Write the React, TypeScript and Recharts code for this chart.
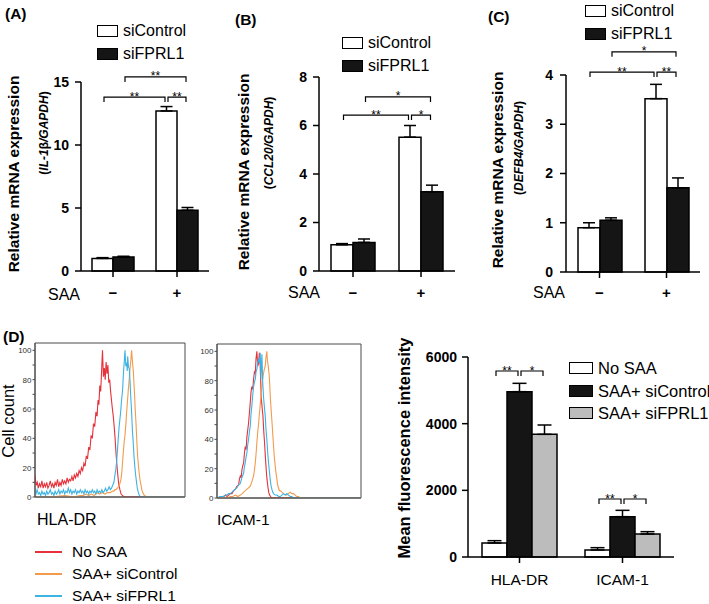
import React from "react";
import {
  BarChart,
  Bar,
  XAxis,
  YAxis,
  ErrorBar,
  Legend,
  LineChart,
  Line,
  ReferenceArea,
} from "recharts";

const FONT = '"Liberation Sans", Arial, Helvetica, sans-serif';

// ---- qPCR panels (A-C) ----
const saaLevels = ["\u2212", "+"];

const il1bControl = [1.0, 12.7];
const il1bControlErr = [0.06, 0.35];
const il1bFprl1 = [1.12, 4.82];
const il1bFprl1Err = [0.05, 0.22];

const ccl20Control = [1.08, 5.52];
const ccl20ControlErr = [0.05, 0.48];
const ccl20Fprl1 = [1.18, 3.27];
const ccl20Fprl1Err = [0.14, 0.27];

const defb4Control = [0.9, 3.52];
const defb4ControlErr = [0.1, 0.29];
const defb4Fprl1 = [1.05, 1.71];
const defb4Fprl1Err = [0.05, 0.2];

const il1bTicks = [0, 5, 10, 15];
const ccl20Ticks = [0, 2, 4, 6, 8];
const defb4Ticks = [0, 1, 2, 3, 4];

// ---- MFI panel (D, right) ----
const markers = ["HLA-DR", "ICAM-1"];
const mfiNoSaa = [420, 210];
const mfiNoSaaErr = [70, 70];
const mfiSiControl = [4960, 1210];
const mfiSiControlErr = [250, 190];
const mfiSiFprl1 = [3680, 690];
const mfiSiFprl1Err = [280, 70];
const mfiTicks = [0, 2000, 4000, 6000];

// significance brackets: [fromCat, fromBar, toCat, toBar, level, stars]
const il1bSig = [
  [0, 1, 1, 1, 15.4, "**"],
  [0, 0, 1, 0, 13.8, "**"],
  [1, 0, 1, 1, 13.8, "**"],
];
const ccl20Sig = [
  [0, 1, 1, 1, 7.18, "*"],
  [0, 0, 1, 0, 6.43, "**"],
  [1, 0, 1, 1, 6.43, "*"],
];
const defb4Sig = [
  [0, 1, 1, 1, 4.47, "*"],
  [0, 0, 1, 0, 4.06, "**"],
  [1, 0, 1, 1, 4.06, "**"],
];
const mfiSig = [
  [0, 0, 0, 1, 5580, "**"],
  [0, 1, 0, 2, 5580, "*"],
  [1, 0, 1, 1, 1740, "**"],
  [1, 1, 1, 2, 1740, "*"],
];

// ---- flow histograms (channel 0-1000, % of max) ----
const hlaNoSaa = [
  [0, 15], [4, 11], [8, 8], [15, 10], [22, 6], [30, 9], [38, 7], [46, 11], [54, 6], [62, 9],
  [70, 7], [78, 10], [86, 6], [94, 8], [102, 11], [110, 7], [118, 9], [126, 6], [134, 10], [142, 8],
  [150, 12], [158, 7], [166, 10], [174, 8], [182, 12], [190, 9], [198, 11], [206, 9], [214, 13], [222, 10],
  [230, 12], [238, 11], [246, 14], [254, 11], [262, 15], [270, 13], [278, 16], [286, 14], [294, 18], [302, 16],
  [310, 20], [318, 18], [326, 23], [334, 21], [342, 28], [350, 26], [358, 34], [366, 32], [374, 42], [382, 40],
  [390, 50], [398, 48], [406, 58], [414, 55], [420, 66], [426, 63], [432, 76], [438, 72], [444, 86], [450, 100],
  [456, 82], [462, 88], [468, 80], [474, 92], [480, 84], [486, 90], [492, 78], [498, 80], [504, 72], [510, 66],
  [516, 60], [522, 55], [528, 48], [534, 40], [540, 30], [546, 22], [552, 15], [558, 9], [566, 5], [574, 2],
  [584, 1], [594, 0], [1000, 0],
];
const hlaSiControl = [
  [0, 0], [100, 0], [200, 1], [260, 0], [300, 1], [322, 1], [340, 2], [358, 1], [376, 2], [394, 1],
  [412, 3], [430, 2], [448, 3], [466, 2], [484, 3], [502, 3], [516, 4], [526, 4], [533, 5], [541, 5],
  [549, 6], [556, 7], [562, 8], [568, 10], [573, 12], [579, 17], [584, 24], [590, 32], [595, 38], [600, 42],
  [606, 50], [611, 58], [617, 66], [622, 73], [628, 80], [633, 87], [638, 92], [644, 100], [650, 92], [656, 85],
  [660, 77], [664, 69], [668, 60], [673, 51], [678, 40], [684, 28], [690, 21], [696, 15], [701, 11], [707, 8],
  [712, 5], [718, 3], [724, 2], [729, 1], [744, 0], [1000, 0],
];
const hlaSiFprl1 = [
  [0, 4], [6, 2], [14, 5], [22, 2], [30, 3], [38, 1], [46, 4], [54, 2], [62, 3], [70, 1],
  [78, 4], [86, 2], [94, 3], [102, 5], [110, 2], [118, 3], [126, 1], [134, 4], [142, 2], [150, 3],
  [158, 5], [166, 2], [174, 4], [182, 3], [190, 5], [198, 2], [206, 4], [214, 3], [222, 6], [230, 3],
  [238, 5], [246, 2], [254, 4], [262, 3], [270, 5], [278, 2], [286, 4], [294, 3], [302, 5], [310, 3],
  [318, 4], [326, 2], [334, 5], [342, 3], [350, 4], [358, 2], [366, 4], [374, 3], [382, 5], [390, 3],
  [398, 4], [406, 2], [414, 5], [422, 3], [430, 4], [438, 3], [446, 5], [454, 3], [462, 4], [470, 6],
  [478, 4], [486, 5], [494, 7], [502, 5], [510, 6], [518, 8], [526, 10], [533, 15], [539, 19], [544, 24],
  [550, 32], [555, 40], [561, 48], [566, 53], [571, 58], [577, 66], [584, 73], [590, 85], [595, 92], [600, 100],
  [605, 90], [611, 91], [615, 86], [618, 96], [623, 89], [629, 87], [634, 78], [638, 69], [644, 58], [649, 46],
  [655, 37], [660, 28], [666, 20], [671, 15], [677, 10], [682, 6], [689, 3], [696, 1], [706, 0], [1000, 0],
];

const icamNoSaa = [
  [0, 0], [12, 0], [30, 1], [46, 1], [60, 2], [70, 1], [81, 2], [92, 3], [104, 3], [115, 5],
  [127, 6], [138, 8], [150, 9], [156, 13], [162, 15], [168, 14], [173, 19], [179, 22], [185, 24], [190, 30],
  [196, 35], [202, 33], [208, 42], [213, 46], [219, 51], [225, 58], [231, 65], [236, 72], [242, 76], [248, 74],
  [254, 81], [260, 86], [266, 85], [271, 95], [277, 100], [283, 90], [289, 92], [294, 99], [300, 90], [304, 78],
  [307, 69], [313, 62], [319, 56], [325, 45], [330, 38], [336, 28], [342, 19], [347, 13], [353, 8], [359, 4],
  [365, 2], [372, 1], [381, 0], [1000, 0],
];
const icamSiControl = [
  [0, 0], [46, 0], [70, 0], [92, 1], [110, 1], [127, 2], [145, 1], [162, 2], [175, 3], [185, 4],
  [197, 5], [208, 6], [220, 7], [231, 8], [242, 11], [254, 15], [260, 19], [266, 24], [272, 31], [277, 38],
  [283, 45], [289, 51], [294, 57], [300, 63], [306, 70], [312, 76], [317, 81], [323, 85], [329, 88], [335, 90],
  [340, 96], [346, 100], [350, 94], [353, 92], [358, 88], [363, 83], [367, 76], [370, 69], [376, 60], [381, 53],
  [387, 44], [393, 35], [398, 28], [404, 22], [410, 17], [416, 13], [421, 9], [427, 7], [433, 5], [439, 5],
  [450, 4], [462, 3], [474, 2], [485, 2], [496, 3], [508, 4], [520, 3], [531, 3], [543, 2], [554, 1],
  [566, 1], [577, 0], [1000, 0],
];
const icamSiFprl1 = [
  [0, 0], [20, 1], [46, 1], [58, 2], [69, 2], [80, 3], [92, 3], [104, 4], [115, 5], [127, 6],
  [139, 7], [150, 9], [162, 10], [173, 14], [185, 17], [190, 21], [196, 24], [202, 28], [208, 31], [213, 36],
  [219, 40], [225, 45], [231, 49], [236, 57], [242, 63], [248, 70], [254, 76], [260, 79], [266, 81], [271, 86],
  [277, 88], [283, 93], [289, 95], [294, 92], [300, 99], [305, 81], [309, 92], [312, 98], [317, 80], [323, 69],
  [329, 62], [335, 56], [340, 47], [346, 40], [352, 31], [358, 24], [364, 18], [370, 12], [376, 8], [381, 6],
  [387, 4], [393, 3], [404, 2], [416, 2], [428, 1], [439, 1], [450, 2], [462, 3], [474, 2], [485, 3],
  [496, 2], [508, 1], [520, 1], [531, 0], [1000, 0],
];

const histYTicks = [0, 10, 20, 30, 40, 50, 60, 70, 80, 90, 100];
const histDecades = [0, 213, 426, 639, 852];
const histMinor = [2, 3, 4, 5, 6, 7, 8, 9];

const RED = "#e5323b";
const ORANGE = "#f29b4c";
const BLUE = "#3cb3e3";
const BLACK = "#151515";

// ---- layout (absolute page px) ----
const LA = { x: 0, y: 0, w: 240, h: 312, pad: 12, top: 82, axisX: 81, right: 209, bottom: 271, max: 15, bar: 21, n: 2 };
const LB = { x: 230, y: 0, w: 240, h: 312, pad: 12, top: 77, axisX: 319, right: 455, bottom: 271, max: 8, bar: 22, n: 2 };
const LC = { x: 470, y: 0, w: 239, h: 312, pad: 12, top: 75, axisX: 566, right: 700, bottom: 272, max: 4, bar: 22, n: 2 };
const LD = { x: 380, y: 300, w: 329, h: 304, pad: 0, top: 357, axisX: 468, right: 674, bottom: 557, max: 6000, bar: 25, n: 3 };

const barX = (L, cat, bar) => {
  const band = (L.right - L.axisX) / 2;
  return L.axisX + band * (cat + 0.5) + (bar - (L.n - 1) / 2) * L.bar;
};
const valY = (L, v) => L.bottom - (v / L.max) * (L.bottom - L.top);

const toRows = (cats, cols) =>
  cats.map((c, i) => {
    const row = { cat: c };
    cols.forEach(([key, vals, errs]) => {
      row[key] = vals[i];
      row[key + "Err"] = [0, errs[i]];
    });
    return row;
  });

const pairs = (arr) => arr.map(([x, y]) => ({ x, y }));

const axisStyle = { stroke: "#000", strokeWidth: 1.5 };

function BoxLegend({ items, boxW, boxH, gap, rowH, fontSize }) {
  return (
    <div style={{ fontFamily: FONT }}>
      {items.map((it) => (
        <div key={it.name} style={{ height: rowH, display: "flex", alignItems: "center" }}>
          <div
            style={{
              width: boxW,
              height: boxH,
              background: it.fill,
              border: "1.5px solid #000",
              boxSizing: "border-box",
              flex: "none",
            }}
          />
          <span style={{ marginLeft: gap, fontSize, color: "#000", lineHeight: 1, whiteSpace: "nowrap" }}>
            {it.name}
          </span>
        </div>
      ))}
    </div>
  );
}

function BarPanel({ L, rows, series, ticks, yTickMargin, catFont, catWeight, catMargin, legend, errW }) {
  const yw = 50;
  return (
    <div style={{ position: "absolute", left: L.x, top: L.y }}>
      <BarChart
        width={L.w}
        height={L.h}
        data={rows}
        barGap={0}
        margin={{ top: L.top - L.y, left: L.axisX - L.x - yw, right: L.x + L.w - L.right, bottom: L.pad }}
      >
        <XAxis
          dataKey="cat"
          height={L.y + L.h - L.bottom - L.pad}
          interval={0}
          tickSize={6}
          tickMargin={catMargin}
          axisLine={axisStyle}
          tickLine={axisStyle}
          tick={{ fill: "#000", fontSize: catFont, fontWeight: catWeight, fontFamily: FONT }}
        />
        <YAxis
          width={yw}
          domain={[0, L.max]}
          ticks={ticks}
          interval={0}
          tickSize={6}
          tickMargin={yTickMargin}
          axisLine={axisStyle}
          tickLine={axisStyle}
          tick={{ fill: "#000", fontSize: 14, fontWeight: 700, fontFamily: FONT }}
        />
        <Legend
          layout="horizontal"
          verticalAlign="middle"
          align="center"
          wrapperStyle={{ left: legend.x - L.x, top: legend.y - L.y, width: 170 }}
          content={() => (
            <BoxLegend
              items={series}
              boxW={legend.boxW}
              boxH={12}
              gap={legend.gap}
              rowH={legend.rowH}
              fontSize={legend.font}
            />
          )}
        />
        {series.map((s) => (
          <Bar
            key={s.key}
            dataKey={s.key}
            name={s.name}
            fill={s.fill}
            stroke="#000"
            strokeWidth={1.5}
            barSize={L.bar}
            isAnimationActive={false}
          >
            <ErrorBar dataKey={s.key + "Err"} width={errW} stroke="#000" strokeWidth={1.5} direction="y" />
          </Bar>
        ))}
      </BarChart>
    </div>
  );
}

const HistTick = (props) => {
  const { x, y, payload } = props;
  if (payload.value % 20 !== 0) return <g />;
  return (
    <text x={x} y={y} dy={3} textAnchor="end" fontSize={8} fill="#333" fontFamily={FONT}>
      {payload.value}
    </text>
  );
};

function LineLegend({ items }) {
  return (
    <div style={{ fontFamily: FONT }}>
      {items.map((it) => (
        <div key={it.name} style={{ height: 22, display: "flex", alignItems: "center" }}>
          <div style={{ width: 27, height: 0, borderTop: `2px solid ${it.color}`, flex: "none" }} />
          <span style={{ marginLeft: 10, fontSize: 15.5, color: "#000", lineHeight: 1, whiteSpace: "nowrap" }}>
            {it.name}
          </span>
        </div>
      ))}
    </div>
  );
}

const histXTicks = histDecades
  .flatMap((d) => [d, ...histMinor.map((m) => d + Math.log10(m) * 213)])
  .filter((t) => t <= 1000);

function Histogram({ box, plot, series, legend }) {
  const yw = 24;
  const xh = 6;
  return (
    <div style={{ position: "absolute", left: box.x, top: box.y }}>
      <LineChart
        width={box.w}
        height={box.h}
        margin={{
          top: plot.top - box.y,
          left: plot.left - box.x - yw,
          right: box.x + box.w - plot.right,
          bottom: box.y + box.h - plot.bottom - xh,
        }}
      >
        <XAxis
          type="number"
          dataKey="x"
          domain={[0, 1000]}
          ticks={histXTicks}
          tick={false}
          tickSize={3}
          height={xh}
          allowDataOverflow
          axisLine={{ stroke: "#4a4a4a" }}
          tickLine={{ stroke: "#4a4a4a" }}
        />
        <YAxis
          type="number"
          domain={[0, 105]}
          ticks={histYTicks}
          interval={0}
          width={yw}
          tickSize={2.5}
          tickMargin={1}
          allowDataOverflow
          axisLine={{ stroke: "#4a4a4a" }}
          tickLine={{ stroke: "#4a4a4a" }}
          tick={<HistTick />}
        />
        <ReferenceArea x1={0} x2={1000} y1={0} y2={105} fill="none" stroke="#4a4a4a" strokeWidth={1} ifOverflow="visible" />
        {series.map((s) => (
          <Line
            key={s.name}
            data={pairs(s.data)}
            dataKey="y"
            name={s.name}
            type="linear"
            stroke={s.color}
            strokeWidth={1.1}
            dot={false}
            isAnimationActive={false}
          />
        ))}
        {legend && (
          <Legend
            layout="horizontal"
            verticalAlign="middle"
            align="center"
            wrapperStyle={{ left: legend.x - box.x, top: legend.y - box.y, width: 190 }}
            content={() => <LineLegend items={series} />}
          />
        )}
      </LineChart>
    </div>
  );
}

const VText = ({ x, y, size, weight = 400, children }) => (
  <text
    transform={`translate(${x},${y}) rotate(-90)`}
    textAnchor="middle"
    dominantBaseline="central"
    fontSize={size}
    fontWeight={weight}
    fill="#000"
  >
    {children}
  </text>
);

function Brackets({ L, sig }) {
  return (
    <g>
      {sig.map(([c1, b1, c2, b2, level, stars], i) => {
        const x1 = barX(L, c1, b1) + 1.5;
        const x2 = barX(L, c2, b2) - 1.5;
        const y = valY(L, level);
        return (
          <g key={i}>
            <path d={`M${x1},${y + 5}V${y}H${x2}V${y + 5}`} fill="none" stroke="#000" strokeWidth={1.2} />
            <text x={(x1 + x2) / 2} y={y + 3.5} textAnchor="middle" fontSize={12} fill="#000">
              {stars}
            </text>
          </g>
        );
      })}
    </g>
  );
}

function Overlay() {
  return (
    <svg
      width={709}
      height={604}
      style={{ position: "absolute", left: 0, top: 0, pointerEvents: "none" }}
      fontFamily={FONT}
    >
      <g fontWeight={700} fontSize={15.5} fill="#000">
        <text x={5} y={19}>(A)</text>
        <text x={235} y={25}>(B)</text>
        <text x={488} y={22}>(C)</text>
        <text x={3} y={342}>(D)</text>
      </g>

      <VText x={13} y={174} size={15.5} weight={700}>Relative mRNA expression</VText>
      <VText x={44} y={133} size={12} weight={700}>
        <tspan>(</tspan>
        <tspan fontStyle="italic">IL-1</tspan>
        <tspan>β</tspan>
        <tspan fontStyle="italic">/GAPDH</tspan>
        <tspan>)</tspan>
      </VText>
      <VText x={243} y={172} size={15.5} weight={700}>Relative mRNA expression</VText>
      <VText x={269} y={143} size={12} weight={700}>
        <tspan>(</tspan>
        <tspan fontStyle="italic">CCL20/GAPDH</tspan>
        <tspan>)</tspan>
      </VText>
      <VText x={497} y={170} size={15.5} weight={700}>Relative mRNA expression</VText>
      <VText x={519} y={148} size={12} weight={700}>
        <tspan>(</tspan>
        <tspan fontStyle="italic">DEFB4/GAPDH</tspan>
        <tspan>)</tspan>
      </VText>

      <g fontSize={16} fill="#000">
        <text x={48} y={300}>SAA</text>
        <text x={288} y={298}>SAA</text>
        <text x={533} y={298}>SAA</text>
      </g>

      <Brackets L={LA} sig={il1bSig} />
      <Brackets L={LB} sig={ccl20Sig} />
      <Brackets L={LC} sig={defb4Sig} />
      <Brackets L={LD} sig={mfiSig} />

      <VText x={8} y={421} size={16.5}>Cell count</VText>
      <text x={37} y={525} fontSize={16} fill="#000">HLA-DR</text>
      <text x={217} y={525} fontSize={15.5} fill="#000">ICAM-1</text>

      <VText x={404} y={448} size={16.5} weight={700}>Mean fluorescence intensity</VText>
    </svg>
  );
}

const qpcrSeries = [
  { key: "ctrl", name: "siControl", fill: "#fff" },
  { key: "fprl", name: "siFPRL1", fill: BLACK },
];
const mfiSeries = [
  { key: "none", name: "No SAA", fill: "#fff" },
  { key: "ctrl", name: "SAA+ siControl", fill: BLACK },
  { key: "fprl", name: "SAA+ siFPRL1", fill: "#bcbcbc" },
];

export default function App() {
  const rowsA = toRows(saaLevels, [["ctrl", il1bControl, il1bControlErr], ["fprl", il1bFprl1, il1bFprl1Err]]);
  const rowsB = toRows(saaLevels, [["ctrl", ccl20Control, ccl20ControlErr], ["fprl", ccl20Fprl1, ccl20Fprl1Err]]);
  const rowsC = toRows(saaLevels, [["ctrl", defb4Control, defb4ControlErr], ["fprl", defb4Fprl1, defb4Fprl1Err]]);
  const rowsD = toRows(markers, [
    ["none", mfiNoSaa, mfiNoSaaErr],
    ["ctrl", mfiSiControl, mfiSiControlErr],
    ["fprl", mfiSiFprl1, mfiSiFprl1Err],
  ]);
  const qLegend = { boxW: 21, gap: 5, rowH: 22.5, font: 16 };

  return (
    <div
      style={{
        position: "absolute",
        left: 0,
        top: 0,
        width: 709,
        height: 604,
        background: "#fff",
        fontFamily: FONT,
        overflow: "hidden",
      }}
    >
      <BarPanel L={LA} rows={rowsA} series={qpcrSeries} ticks={il1bTicks} yTickMargin={6}
        catFont={15} catWeight={700} catMargin={10} errW={6} legend={{ ...qLegend, x: 97, y: 20 }} />
      <BarPanel L={LB} rows={rowsB} series={qpcrSeries} ticks={ccl20Ticks} yTickMargin={6}
        catFont={15} catWeight={700} catMargin={10} errW={6} legend={{ ...qLegend, x: 342, y: 32 }} />
      <BarPanel L={LC} rows={rowsC} series={qpcrSeries} ticks={defb4Ticks} yTickMargin={7}
        catFont={15} catWeight={700} catMargin={9} errW={6} legend={{ ...qLegend, x: 585, y: 0 }} />
      <BarPanel L={LD} rows={rowsD} series={mfiSeries} ticks={mfiTicks} yTickMargin={5}
        catFont={15.5} catWeight={400} catMargin={11} errW={7}
        legend={{ boxW: 24, gap: 5, rowH: 22.5, font: 16.5, x: 569, y: 357 }} />

      <Histogram
        box={{ x: 0, y: 330, w: 190, h: 274 }}
        plot={{ left: 35, top: 343, right: 185, bottom: 497 }}
        series={[
          { name: "No SAA", color: RED, data: hlaNoSaa },
          { name: "SAA+ siControl", color: ORANGE, data: hlaSiControl },
          { name: "SAA+ siFPRL1", color: BLUE, data: hlaSiFprl1 },
        ]}
        legend={{ x: 35, y: 541 }}
      />
      <Histogram
        box={{ x: 190, y: 330, w: 180, h: 180 }}
        plot={{ left: 217, top: 344, right: 361, bottom: 498 }}
        series={[
          { name: "No SAA", color: RED, data: icamNoSaa },
          { name: "SAA+ siControl", color: ORANGE, data: icamSiControl },
          { name: "SAA+ siFPRL1", color: BLUE, data: icamSiFprl1 },
        ]}
      />

      <Overlay />
    </div>
  );
}
